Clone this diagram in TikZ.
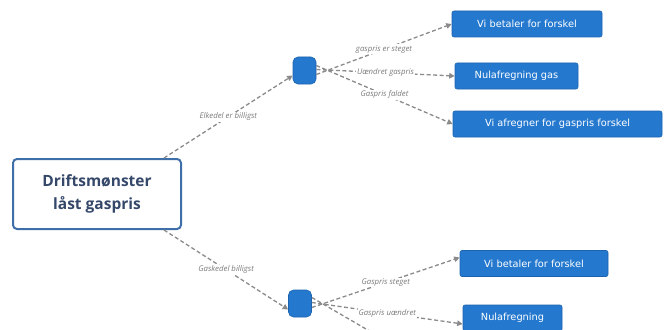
\documentclass[tikz,border=0pt]{standalone}
\usepackage{fontspec}
\setmainfont{Open Sans}
\newfontfamily\leaffont{DejaVu Sans}
\usetikzlibrary{arrows.meta}
\definecolor{boxblue}{HTML}{2479CF}
\definecolor{boxedge}{HTML}{1C62AE}
\definecolor{mainedge}{HTML}{3F6FA8}
\definecolor{maintext}{HTML}{35486A}
\definecolor{linegray}{HTML}{8A8A8A}
\definecolor{labgray}{HTML}{7A7A7A}
\tikzset{
  mainbox/.style={draw=mainedge, line width=2pt, rounded corners=4pt, fill=white,
    minimum width=168pt, minimum height=70pt, align=center, text=maintext,
    font=\fontsize{15.5}{23}\selectfont\bfseries},
  leafbox/.style={draw=boxedge, line width=0.6pt, rounded corners=2pt, fill=boxblue,
    minimum height=26pt, text=white, font=\leaffont\fontsize{9.8}{12}\selectfont, inner xsep=4pt},
  decision/.style={draw=boxedge, line width=0.6pt, rounded corners=5pt, fill=boxblue,
    minimum width=23pt, minimum height=27pt},
  conn/.style={draw=linegray, line width=1.3pt, dash pattern=on 4pt off 2.5pt,
    -{Triangle[length=5.5pt,width=5.5pt]}},
  elab/.style={fill=white, inner sep=1pt, text=labgray,
    font=\fontsize{7.8}{8}\selectfont\itshape}
}
\begin{document}
\begin{tikzpicture}[x=1pt,y=-1pt]
\useasboundingbox (0,0) rectangle (666,329);
\clip (0,0) rectangle (666,329);
\node[mainbox] (main) at (97,194) {Driftsmønster\\låst gaspris};
\node[decision] (d1) at (304.5,70.5) {};
\node[decision] (d2) at (300,303.5) {};
\node[leafbox, minimum width=150pt] (b1) at (527,24) {Vi betaler for forskel};
\node[leafbox, minimum width=123pt] (b2) at (516.5,76) {Nulafregning gas};
\node[leafbox, minimum width=209pt] (b3) at (557.5,124) {Vi afregner for gaspris forskel};
\node[leafbox, minimum width=148pt] (b4) at (534,263.5) {Vi betaler for forskel};
\node[leafbox, minimum width=99pt] (b5) at (512.5,318) {Nulafregning};
\coordinate (off) at (385,340);

\draw[conn] ([xshift=-18pt]main.north east) -- node[elab]{Elkedel er billigst} ([yshift=-5pt]d1.west);
\draw[conn] ([xshift=-18pt]main.south east) -- node[elab]{Gaskedel billigst} ([yshift=-6pt]d2.west);

\draw[conn] ([yshift=-4pt]d1.east) -- node[elab]{gaspris er steget} (b1.west);
\draw[conn] ([yshift=1pt]d1.east) -- node[elab]{Uændret gaspris} (b2.west);
\draw[conn] ([yshift=5pt]d1.east) -- node[elab]{Gaspris faldet} (b3.west);

\draw[conn] ([yshift=-4pt]d2.east) -- node[elab]{Gaspris steget} ([yshift=6pt]b4.west);
\draw[conn] ([yshift=1pt]d2.east) -- node[elab]{Gaspris uændret} ([yshift=-6pt]b5.west);
\draw[draw=linegray, line width=1.3pt, dash pattern=on 4pt off 2.5pt] ([yshift=6pt]d2.east) -- (off);
\end{tikzpicture}
\end{document}
